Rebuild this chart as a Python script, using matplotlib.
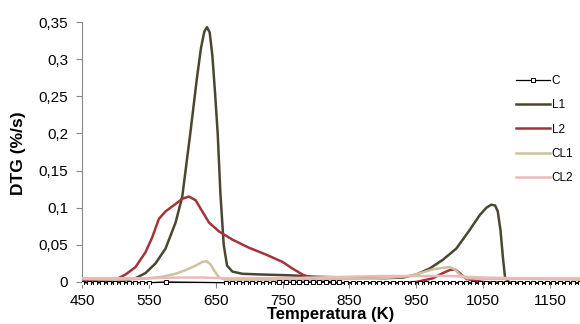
import matplotlib
matplotlib.use('Agg')
import matplotlib.pyplot as plt

# temperature (K) and DTG (%/s) values
temp_c = [450, 460, 470, 480, 490, 500, 510, 520, 530, 540, 550, 575, 665, 675, 685,
          695, 705, 715, 725, 735, 745, 755, 765, 775, 785, 795, 805, 815, 825, 835,
          845, 855, 865, 875, 885, 895, 905, 915, 925, 935, 945, 955, 965, 975, 985,
          995, 1005, 1015, 1025, 1035, 1045, 1055, 1065, 1075, 1085, 1095, 1105, 1115,
          1125, 1135, 1145, 1155, 1165, 1175, 1185, 1195]
dtg_c = [-0.001, -0.001, -0.001, -0.001, -0.001, -0.001, -0.001, -0.001, -0.001, -0.001,
         -0.001, 0.0, -0.001, -0.001, -0.001, -0.001, -0.001, -0.001, -0.001, -0.001,
         -0.0005, -0.0005, 0.0, 0.0, 0.0, 0.0, 0.0, 0.0, 0.0, -0.0005, -0.001, -0.001,
         -0.001, -0.001, -0.001, -0.001, -0.001, -0.001, -0.001, -0.001, -0.001, -0.001,
         -0.001, -0.001, -0.0015, -0.0015, -0.0015, -0.0015, -0.002, -0.002, -0.002,
         -0.002, -0.002, -0.002, -0.002, -0.002, -0.002, -0.002, -0.002, -0.002, -0.002,
         -0.002, -0.002, -0.002, -0.002, -0.002]

temp_l1 = [450, 480, 500, 515, 530, 545, 560, 575, 590, 600, 612, 622, 628, 633, 637,
           641, 645, 649, 653, 657, 662, 667, 675, 690, 720, 760, 800, 850, 900, 930, 950,
           970, 990, 1010, 1030, 1045, 1055, 1062, 1068, 1072, 1076, 1080, 1083, 1090,
           1120, 1160, 1195]
dtg_l1 = [0.0, 0.0, 0.0, 0.002, 0.005, 0.012, 0.025, 0.045, 0.08, 0.115, 0.2, 0.275,
          0.315, 0.337, 0.343, 0.336, 0.305, 0.255, 0.2, 0.12, 0.05, 0.022, 0.014, 0.011,
          0.01, 0.009, 0.007, 0.006, 0.005, 0.006, 0.01, 0.018, 0.03, 0.045, 0.07, 0.09,
          0.1, 0.104, 0.103, 0.095, 0.07, 0.03, 0.005, -0.001, -0.002, -0.002, -0.002]

temp_l2 = [450, 480, 500, 515, 530, 545, 555, 565, 575, 590, 600, 610, 620, 630, 640,
           655, 675, 700, 725, 750, 765, 780, 800, 830, 870, 910, 950, 975, 990, 1000,
           1008, 1015, 1025, 1050, 1100, 1150, 1195]
dtg_l2 = [0.002, 0.002, 0.003, 0.01, 0.02, 0.04, 0.06, 0.085, 0.095, 0.105, 0.112,
          0.115, 0.11, 0.095, 0.08, 0.068, 0.057, 0.046, 0.037, 0.027, 0.018, 0.01,
          0.003, -0.002, -0.003, -0.003, 0.0, 0.005, 0.012, 0.016, 0.017, 0.012, 0.004,
          0.0, -0.002, -0.003, -0.004]

temp_cl1 = [450, 500, 540, 570, 590, 605, 620, 630, 636, 642, 648, 655, 665, 700, 800,
            900, 940, 960, 975, 990, 1000, 1008, 1015, 1025, 1060, 1120, 1195]
dtg_cl1 = [0.004, 0.003, 0.004, 0.007, 0.011, 0.016, 0.022, 0.027, 0.028, 0.024, 0.015,
           0.006, 0.003, 0.003, 0.003, 0.005, 0.008, 0.013, 0.017, 0.019, 0.02, 0.017,
           0.01, 0.005, 0.004, 0.004, 0.003]

temp_cl2 = [450, 500, 550, 600, 630, 660, 700, 750, 800, 850, 900, 950, 1000, 1050,
            1100, 1150, 1195]
dtg_cl2 = [0.005, 0.005, 0.005, 0.006, 0.006, 0.005, 0.005, 0.005, 0.006, 0.007, 0.008,
           0.008, 0.008, 0.006, 0.005, 0.005, 0.005]

x_ticks = [450, 550, 650, 750, 850, 950, 1050, 1150]
y_ticks = [0, 0.05, 0.1, 0.15, 0.2, 0.25, 0.3, 0.35]
y_labels = ['0', '0,05', '0,1', '0,15', '0,2', '0,25', '0,3', '0,35']

plt.rcParams['font.family'] = ['Liberation Sans', 'DejaVu Sans']

fig = plt.figure(figsize=(5.8, 3.24), dpi=100)
# y = 0 sits at pixel row 282, y = 0.35 at row 22
ax = fig.add_axes([82 / 580, 39.8 / 324, 498 / 580, 262.2 / 324])

ax.plot(temp_c, dtg_c, color='black', lw=0.9, marker='s', markersize=3.2,
        markerfacecolor='white', markeredgecolor='black', markeredgewidth=0.7,
        label='C', zorder=3)
ax.plot(temp_l1, dtg_l1, color='#4b4630', lw=1.8, label='L1')
ax.plot(temp_l2, dtg_l2, color='#a3343a', lw=1.8, label='L2')
ax.plot(temp_cl1, dtg_cl1, color='#cbc29e', lw=1.8, label='CL1')
ax.plot(temp_cl2, dtg_cl2, color='#ebb9bb', lw=1.8, label='CL2', zorder=4)

ax.set_xlim(450, 1195)
ax.set_ylim(-0.003, 0.35)
ax.set_xticks(x_ticks)
ax.set_yticks(y_ticks)
ax.set_yticklabels(y_labels)
ax.tick_params(axis='both', labelsize=11, color='#888888', length=4)
ax.tick_params(axis='x', direction='out', pad=5)
ax.tick_params(axis='y', pad=6)

for s in ['top', 'right']:
    ax.spines[s].set_visible(False)
ax.spines['left'].set_color('#888888')
ax.spines['bottom'].set_color('#222222')
ax.spines['bottom'].set_position(('data', 0))

ax.set_xlabel('Temperatura (K)', fontsize=12, fontweight='bold', labelpad=-1)
ax.set_ylabel('DTG (%/s)', fontsize=12.5, fontweight='bold', labelpad=9)

leg = ax.legend(loc='upper left', bbox_to_anchor=(511 / 580, 1 - 70 / 324),
                bbox_transform=fig.transFigure, frameon=False, fontsize=8.5,
                handlelength=2.9, handletextpad=0.15, labelspacing=1.05,
                borderaxespad=0, numpoints=1)

fig.savefig('out.png', dpi=100)
